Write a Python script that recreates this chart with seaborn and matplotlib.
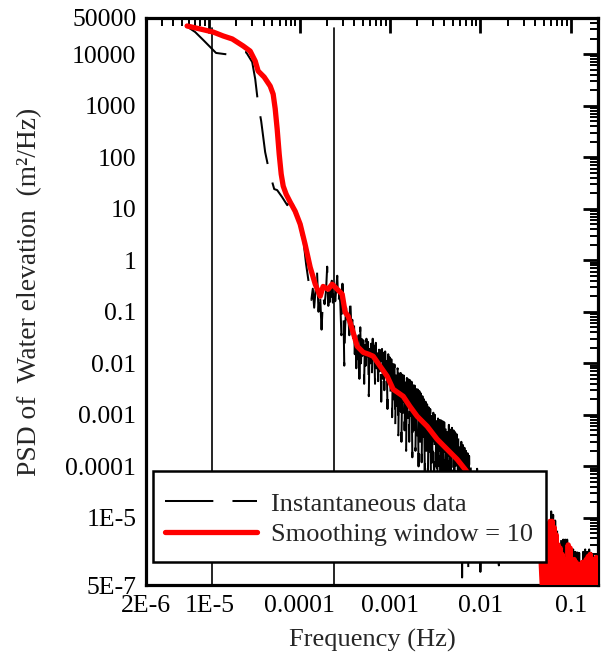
import numpy as np
import pandas as pd
import matplotlib
matplotlib.use("Agg")
import matplotlib.pyplot as plt
from matplotlib.ticker import FixedLocator, FixedFormatter, LogLocator, NullFormatter
from matplotlib.lines import Line2D
from matplotlib.patches import Rectangle
import seaborn as sns

# ---------------- data ----------------
# Instantaneous PSD, low-frequency part
inst_freq_low = [5.86e-6, 7.0e-6, 8.6e-6, 1.08e-5, 1.19e-5, 1.47e-5, 1.80e-5, 2.56e-5,
                 2.99e-5, 3.23e-5, 3.48e-5, 3.76e-5, 4.16e-5, 4.61e-5, 5.24e-5, 5.65e-5,
                 6.42e-5, 7.3e-5, 7.87e-5, 8.5e-5, 9.4e-5, 1.10e-4, 1.18e-4, 1.28e-4]
inst_psd_low = [3.3e4, 2.67e4, 1.87e4, 1.25e4, 1.05e4, 1.0e4, 9.6e3, 1.09e4,
                7.0e3, 3.27e3, 1.07e3, 500, 125, 53, 24, 22.9,
                16.7, 11.7, 14.0, 11.7, 5.0, 2.56, 0.84, 0.31]

# Instantaneous PSD, noisy part around the tidal band
inst_freq_tide = [1.35e-4, 1.40e-4, 1.45e-4, 1.50e-4, 1.56e-4, 1.62e-4, 1.68e-4, 1.75e-4,
                  1.82e-4, 1.89e-4, 1.96e-4, 2.02e-4, 2.08e-4, 2.14e-4, 2.20e-4, 2.27e-4,
                  2.34e-4, 2.41e-4, 2.48e-4, 2.55e-4, 2.61e-4, 2.68e-4, 2.75e-4, 2.82e-4,
                  2.90e-4, 2.98e-4, 3.06e-4, 3.12e-4, 3.19e-4, 3.27e-4, 3.36e-4, 3.45e-4,
                  3.55e-4, 3.63e-4, 3.73e-4, 3.83e-4, 3.92e-4]
inst_psd_tide = [0.17, 0.28, 0.12, 0.26, 0.60, 0.10, 0.25, 0.045,
                 0.20, 0.14, 0.25, 0.75, 0.13, 0.30, 0.11, 0.40,
                 0.15, 0.33, 0.16, 0.30, 0.50, 0.13, 0.22, 0.15,
                 0.035, 0.35, 0.10, 0.009, 0.05, 0.12, 0.06, 0.10,
                 0.035, 0.20, 0.05, 0.07, 0.029]

# Instantaneous PSD, 0.0004 - 0.001 Hz
inst_freq_a = [4.00e-4, 4.08e-4, 4.16e-4, 4.24e-4, 4.33e-4, 4.42e-4, 4.50e-4, 4.59e-4,
               4.69e-4, 4.78e-4, 4.88e-4, 4.97e-4, 5.07e-4, 5.18e-4, 5.28e-4, 5.39e-4,
               5.49e-4, 5.60e-4, 5.72e-4, 5.83e-4, 5.95e-4, 6.07e-4, 6.19e-4, 6.31e-4,
               6.44e-4, 6.56e-4, 6.70e-4, 6.83e-4, 6.97e-4, 7.11e-4, 7.25e-4, 7.39e-4,
               7.54e-4, 7.69e-4, 7.85e-4, 8.00e-4, 8.16e-4, 8.33e-4, 8.49e-4, 8.66e-4,
               8.84e-4, 9.01e-4, 9.19e-4, 9.38e-4, 9.57e-4, 9.76e-4, 9.95e-4]
inst_psd_a = [0.06, 0.015, 0.045, 0.008, 0.04, 0.012, 0.035, 0.005,
              0.05, 0.01, 0.032, 0.014, 0.028, 0.004, 0.033, 0.009,
              0.030, 0.012, 0.026, 0.0023, 0.029, 0.010, 0.024, 0.006,
              0.030, 0.011, 0.022, 0.004, 0.025, 0.008, 0.020, 0.0045,
              0.022, 0.007, 0.018, 0.0018, 0.019, 0.005, 0.016, 0.003,
              0.017, 0.006, 0.014, 0.0013, 0.015, 0.004, 0.013]

# Instantaneous PSD, 0.001 - 0.008 Hz
inst_freq_b = [1.015e-3, 1.035e-3, 1.056e-3, 1.077e-3, 1.099e-3, 1.121e-3, 1.143e-3, 1.166e-3,
               1.189e-3, 1.213e-3, 1.237e-3, 1.262e-3, 1.287e-3, 1.313e-3, 1.339e-3, 1.366e-3,
               1.393e-3, 1.421e-3, 1.450e-3, 1.479e-3, 1.508e-3, 1.538e-3, 1.569e-3, 1.600e-3,
               1.632e-3, 1.665e-3, 1.698e-3, 1.732e-3, 1.767e-3, 1.802e-3, 1.838e-3, 1.875e-3,
               1.913e-3, 1.951e-3, 1.990e-3, 2.030e-3, 2.070e-3, 2.112e-3, 2.154e-3, 2.197e-3,
               2.241e-3, 2.286e-3, 2.332e-3, 2.378e-3, 2.426e-3, 2.474e-3, 2.524e-3, 2.574e-3,
               2.626e-3, 2.678e-3, 2.732e-3, 2.787e-3, 2.842e-3, 2.899e-3, 2.957e-3, 3.016e-3,
               3.077e-3, 3.138e-3, 3.201e-3, 3.265e-3, 3.330e-3, 3.397e-3, 3.465e-3, 3.534e-3,
               3.605e-3, 3.677e-3, 3.750e-3, 3.825e-3, 3.902e-3, 3.980e-3, 4.059e-3, 4.141e-3,
               4.224e-3, 4.308e-3, 4.394e-3, 4.482e-3, 4.572e-3, 4.663e-3, 4.756e-3, 4.852e-3,
               4.949e-3, 5.048e-3, 5.149e-3, 5.252e-3, 5.357e-3, 5.464e-3, 5.573e-3, 5.684e-3,
               5.798e-3, 5.914e-3, 6.032e-3, 6.153e-3, 6.276e-3, 6.402e-3, 6.530e-3, 6.660e-3,
               6.794e-3, 6.929e-3, 7.068e-3, 7.209e-3, 7.353e-3, 7.500e-3, 7.650e-3, 7.803e-3,
               7.959e-3]
inst_psd_b = [0.0025, 0.012, 0.0009, 0.011, 0.002, 0.0095, 0.0006, 0.009,
              0.0015, 0.008, 0.0004, 0.0072, 0.0012, 0.0065, 0.0003, 0.006,
              0.0010, 0.0058, 0.0005, 0.0055, 0.0002, 0.0052, 0.0008, 0.0049,
              0.0003, 0.0047, 0.0006, 0.0044, 0.00015, 0.0040, 0.0005, 0.0037,
              0.0002, 0.0034, 0.0004, 0.0031, 0.0001, 0.0029, 0.0003, 0.0026,
              0.00012, 0.0023, 0.00025, 0.0020, 0.00008, 0.0018, 0.0002, 0.0016,
              0.00006, 0.0014, 0.00015, 0.0013, 0.00005, 0.0012, 0.00012, 0.0011,
              0.00004, 0.0010, 0.0001, 0.00092, 0.00004, 0.00085, 0.00009, 0.0008,
              0.00003, 0.00078, 0.00008, 0.00075, 0.00003, 0.00072, 0.00007, 0.0007,
              0.00003, 0.00068, 0.00006, 0.00064, 0.00002, 0.0006, 0.00005, 0.00056,
              0.00002, 0.0005, 0.00004, 0.00046, 0.00002, 0.00042, 0.00003, 0.00038,
              0.00002, 0.00034, 0.00003, 0.0003, 7e-7, 0.00026, 0.00002, 0.00023,
              1.2e-6, 0.0002, 0.00002, 0.00018, 8e-7, 0.00016, 0.00002, 0.00013,
              0.00001]

# Instantaneous PSD, 0.008 - 0.05 Hz (mostly behind the legend)
inst_freq_c = [8.5e-3, 9.2e-3, 1.0e-2, 1.1e-2, 1.25e-2, 1.4e-2, 1.6e-2, 1.8e-2,
               2.0e-2, 2.5e-2, 3.0e-2, 3.5e-2, 4.0e-2, 4.5e-2, 4.8e-2]
inst_psd_c = [8e-6, 9e-5, 9e-7, 6e-5, 1.4e-6, 4e-5, 1.2e-6, 2.5e-5,
              3e-6, 1.2e-5, 2e-6, 6e-6, 2e-6, 4e-6, 2.5e-7]

# High-frequency (wind-wave) band, shared frequency grid
hf_freq = [5.08e-2, 5.21e-2, 5.34e-2, 5.48e-2, 5.62e-2, 5.76e-2, 5.91e-2, 6.07e-2,
           6.22e-2, 6.38e-2, 6.55e-2, 6.72e-2, 6.89e-2, 7.07e-2, 7.25e-2, 7.44e-2,
           7.63e-2, 7.83e-2, 8.03e-2, 8.24e-2, 8.45e-2, 8.67e-2, 8.89e-2, 9.12e-2,
           9.36e-2, 9.60e-2, 9.84e-2, 0.101, 0.1036, 0.1063, 0.109, 0.1118,
           0.1147, 0.1177, 0.1207, 0.1238, 0.127, 0.1303, 0.1337, 0.1371,
           0.1407, 0.1443, 0.148, 0.1518, 0.1558, 0.1598, 0.1639, 0.1681,
           0.1725, 0.1769, 0.1815, 0.1862, 0.191, 0.1959]
inst_psd_hf = [2.5e-7, 3.0e-6, 2.5e-7, 6.0e-6, 2.5e-7, 1.15e-5, 2.5e-7, 1.34e-5,
               2.5e-7, 1.15e-5, 2.5e-7, 8.9e-6, 2.5e-7, 6.8e-6, 2.5e-7, 4.7e-6,
               2.5e-7, 4.1e-6, 2.5e-7, 3.8e-6, 2.5e-7, 3.8e-6, 2.5e-7, 3.8e-6,
               2.5e-7, 3.3e-6, 2.5e-7, 2.2e-6, 2.5e-7, 2.45e-6, 2.5e-7, 2.2e-6,
               2.5e-7, 2.45e-6, 2.5e-7, 2.1e-6, 2.5e-7, 1.96e-6, 2.5e-7, 2.2e-6,
               2.5e-7, 2.45e-6, 2.5e-7, 2.2e-6, 2.5e-7, 2.45e-6, 2.5e-7, 2.1e-6,
               2.5e-7, 1.87e-6, 2.5e-7, 1.71e-6, 2.5e-7, 1.87e-6]

# Smoothed PSD (window = 10)
smooth_freq_low = [5.7e-6, 7.95e-6, 1.107e-5, 1.43e-5, 1.80e-5, 2.38e-5, 2.84e-5, 3.23e-5,
                   3.48e-5, 4.06e-5, 4.73e-5, 5.1e-5, 5.37e-5, 5.65e-5, 5.95e-5, 6.26e-5,
                   6.59e-5, 7.1e-5, 7.87e-5, 8.94e-5, 1.015e-4, 1.15e-4, 1.31e-4, 1.49e-4,
                   1.69e-4, 1.82e-4, 2.07e-4, 2.29e-4, 2.61e-4, 2.96e-4, 3.19e-4, 3.45e-4,
                   3.82e-4, 4.34e-4, 5.06e-4, 5.8e-4, 6.52e-4, 7.79e-4, 9.31e-4, 1.085e-3,
                   1.40e-3, 1.66e-3, 2.0e-3, 2.58e-3, 3.33e-3, 4.29e-3, 5.53e-3, 6.78e-3,
                   9e-3, 1.2e-2, 1.6e-2, 2.2e-2, 3e-2, 3.8e-2, 4.4e-2, 4.7e-2,
                   4.9e-2]
smooth_psd_low = [3.5e4, 3.06e4, 2.67e4, 2.24e4, 1.96e4, 1.43e4, 1.14e4, 7.3e3,
                  4.68e3, 3.57e3, 2.39e3, 1.67e3, 873, 350, 114, 46.8,
                  27.4, 19.1, 13.4, 8.9, 5.0, 2.04, 0.73, 0.342,
                  0.20, 0.31, 0.273, 0.342, 0.273, 0.219, 0.098, 0.082,
                  0.0457, 0.0214, 0.0163, 0.0150, 0.0137, 0.00875, 0.0056, 0.00313,
                  0.00229, 0.00146, 9.35e-4, 5.98e-4, 3.35e-4, 2.14e-4, 1.37e-4, 8.75e-5,
                  4.5e-5, 2.2e-5, 1.1e-5, 5e-6, 2.5e-6, 1.8e-6, 1.6e-6, 1.4e-6,
                  3e-7]
smooth_psd_hf = [1.3e-6, 2.5e-7, 1.56e-6, 2.5e-7, 4.7e-6, 2.5e-7, 8.6e-6, 2.5e-7,
                 8.6e-6, 2.5e-7, 6.5e-6, 2.5e-7, 4.7e-6, 2.5e-7, 3.0e-6, 2.5e-7,
                 2.6e-6, 2.5e-7, 1.96e-6, 2.5e-7, 1.56e-6, 2.5e-7, 1.56e-6, 2.5e-7,
                 3.0e-6, 2.5e-7, 2.6e-6, 2.5e-7, 1.25e-6, 2.5e-7, 1.56e-6, 2.5e-7,
                 1.37e-6, 2.5e-7, 1.1e-6, 2.5e-7, 1.25e-6, 2.5e-7, 1.37e-6, 2.5e-7,
                 1.1e-6, 2.5e-7, 1.56e-6, 2.5e-7, 1.79e-6, 2.5e-7, 1.96e-6, 2.5e-7,
                 1.25e-6, 2.5e-7, 1.56e-6, 2.5e-7, 1.71e-6, 2.5e-7]

# Reference frequencies (vertical lines)
ref_lines = [1.08e-5, 2.41e-4]

# Axis ticks
x_ticks = [2e-6, 1e-5, 1e-4, 1e-3, 1e-2, 1e-1]
x_labels = ["2E-6", "1E-5", "0.0001", "0.001", "0.01", "0.1"]
y_ticks = [5e-7, 1e-6, 1e-5, 1e-4, 1e-3, 1e-2, 1e-1, 1, 10, 100, 1000, 1e4, 5e4]
y_labels = ["5E-7", "", "1E-5", "0.0001", "0.001", "0.01", "0.1", "1", "10", "100",
            "1000", "10000", "50000"]

legend_labels = ["Instantaneous data", "Smoothing window = 10"]

# ---------------- build tables ----------------
inst = pd.DataFrame({
    "freq": inst_freq_low + inst_freq_tide + inst_freq_a + inst_freq_b + inst_freq_c + hf_freq,
    "psd": inst_psd_low + inst_psd_tide + inst_psd_a + inst_psd_b + inst_psd_c + inst_psd_hf})
smooth = pd.DataFrame({"freq": smooth_freq_low + hf_freq,
                       "psd": smooth_psd_low + smooth_psd_hf})

# ---------------- style ----------------
sns.set_style("white")
plt.rcParams["font.family"] = ["Liberation Serif", "DejaVu Serif"]
plt.rcParams["axes.unicode_minus"] = False

W, H = 602, 664
fig = plt.figure(figsize=(W / 100, H / 100), dpi=100)
ax = fig.add_axes([146 / W, 1 - 585 / H, 452 / W, 567 / H])
ax.set_xscale("log")
ax.set_yscale("log")

BLACK_LW = 1.45
BLACK_DASH = (0, (24, 9.5))

for f in ref_lines:
    ax.axvline(f, ymin=0, ymax=0.982, color="black", lw=1.2, zorder=1)

sns.lineplot(data=inst, x="freq", y="psd", ax=ax, color="black", lw=BLACK_LW,
             linestyle=BLACK_DASH, estimator=None, sort=False, zorder=2)
sns.lineplot(data=smooth, x="freq", y="psd", ax=ax, color="#ff0000", lw=3.8,
             estimator=None, sort=False, zorder=3)

ax.xaxis.set_major_locator(FixedLocator(x_ticks))
ax.xaxis.set_major_formatter(FixedFormatter(x_labels))
ax.xaxis.set_minor_locator(LogLocator(base=10, subs=np.arange(2, 10), numticks=30))
ax.xaxis.set_minor_formatter(NullFormatter())
ax.yaxis.set_major_locator(FixedLocator(y_ticks))
ax.yaxis.set_major_formatter(FixedFormatter(y_labels))
ax.yaxis.set_minor_locator(LogLocator(base=10, subs=np.arange(2, 10), numticks=30))
ax.yaxis.set_minor_formatter(NullFormatter())

ax.tick_params(which="both", direction="in", top=True, right=True, colors="black")
ax.tick_params(which="major", length=11, width=2.0, labelsize=18.5, pad=7)
ax.tick_params(which="minor", length=5.5, width=1.4)
for s in ax.spines.values():
    s.set_linewidth(2.3)
    s.set_color("black")

ax.set_xlabel("Frequency (Hz)", fontsize=19, labelpad=9)
ax.set_ylabel("")
fig.text(30 / W, 1 - 292 / H, "PSD of  Water elevation  (m\u00b2/Hz)", rotation=90,
         ha="center", va="center", fontsize=19.8)

# legend box (white, black border) and its entries
frame = Rectangle((7 / 452, 23 / 567), 393 / 452, 91 / 567, transform=ax.transAxes,
                  facecolor="white", edgecolor="black", lw=1.8, zorder=4)
ax.add_patch(frame)
handles = [Line2D([], [], color="black", lw=BLACK_LW, linestyle=BLACK_DASH),
           Line2D([], [], color="#ff0000", lw=3.8)]
leg = ax.legend(handles, legend_labels, loc="center left",
                bbox_to_anchor=(19 / 452, (585 - 519) / 567),
                borderaxespad=0, borderpad=0, frameon=False, fontsize=19,
                handlelength=3.5, handletextpad=0.53, labelspacing=0.25)
leg.set_zorder(5)

ax.set_xlim(2e-6, 0.2)
ax.set_ylim(5e-7, 5e4)

fig.savefig("out.png", dpi=100)
